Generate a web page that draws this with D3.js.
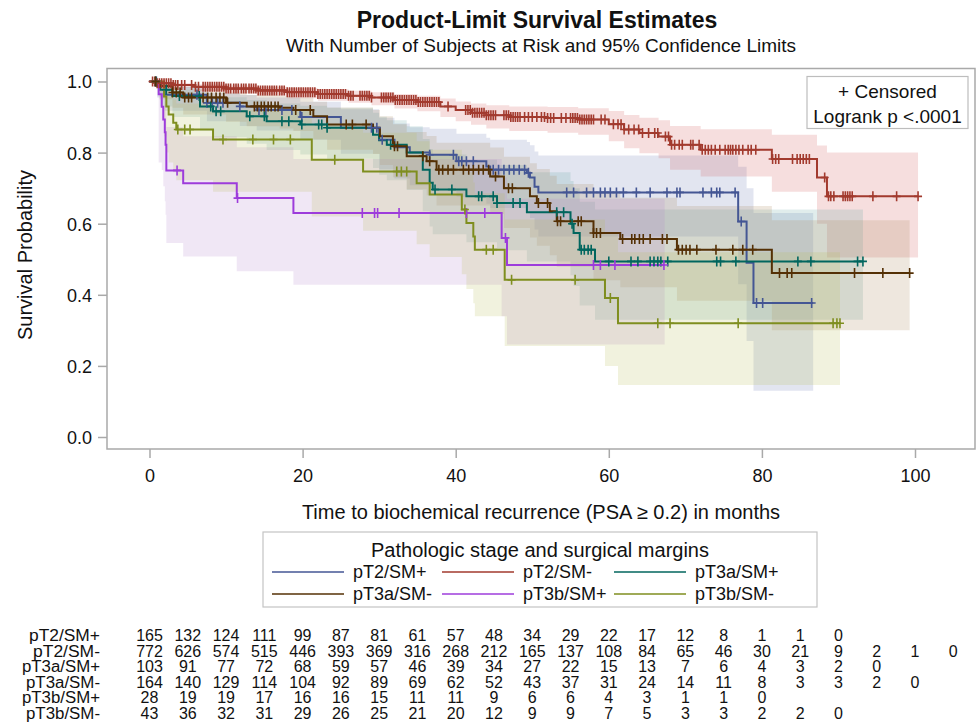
<!DOCTYPE html>
<html><head><meta charset="utf-8">
<script src="https://cdn.jsdelivr.net/npm/d3@7"></script>
<style>body{margin:0;background:#fff} text{font-family:"Liberation Sans",Arial,sans-serif;fill:#111}</style>
</head><body><svg id="c" width="978" height="725"></svg>
<script>
// ---------------- DATA ----------------
const groups = ["pT2/SM+","pT2/SM-","pT3a/SM+","pT3a/SM-","pT3b/SM+","pT3b/SM-"];
// step rows: [time, survival, lowerCL, upperCL]
const stepsPT2SMp = [[0,1,1,1],[1.0,0.987,0.955,0.997],[2.0,0.963,0.918,0.984],[7.5,0.94,0.888,0.968],[11.8,0.93,0.875,0.962],[14.0,0.92,0.862,0.955],[19.7,0.90,0.836,0.943],[25.0,0.87,0.797,0.922],[30.0,0.836,0.753,0.898],[32.0,0.815,0.727,0.882],[34.0,0.80,0.708,0.871],[36.6,0.794,0.70,0.867],[40.1,0.776,0.676,0.853],[44.0,0.761,0.656,0.842],[44.5,0.752,0.644,0.836],[49.3,0.743,0.632,0.830],[49.7,0.73,0.616,0.821],[50.3,0.704,0.584,0.803],[50.8,0.688,0.564,0.792],[76.9,0.606,0.43,0.76],[78.0,0.49,0.27,0.70],[78.9,0.377,0.13,0.63]];
const stepsPT2SMm = [[0,1,1,1],[1,0.995,0.987,0.998],[3,0.99,0.98,0.995],[6,0.985,0.973,0.992],[10,0.98,0.966,0.989],[14,0.975,0.960,0.985],[18,0.97,0.953,0.981],[22,0.965,0.946,0.978],[26,0.96,0.940,0.974],[29,0.955,0.933,0.970],[32,0.948,0.924,0.965],[35,0.942,0.916,0.960],[38,0.93,0.900,0.952],[40,0.92,0.888,0.944],[42,0.912,0.878,0.938],[44,0.905,0.868,0.933],[47,0.90,0.861,0.930],[52,0.897,0.856,0.928],[56,0.893,0.850,0.925],[60,0.88,0.832,0.917],[62,0.865,0.812,0.906],[64,0.855,0.798,0.898],[66.5,0.845,0.784,0.891],[68,0.822,0.752,0.875],[72,0.808,0.733,0.866],[81.3,0.782,0.690,0.850],[87.2,0.73,0.600,0.820],[88.5,0.677,0.505,0.800]];
const stepsPT3aSMp = [[0,1,1,1],[1.4,0.977,0.93,0.994],[3.0,0.959,0.90,0.985],[6.6,0.93,0.862,0.966],[8.3,0.916,0.843,0.956],[12.7,0.902,0.825,0.948],[15.3,0.888,0.807,0.938],[19.7,0.879,0.795,0.932],[23.2,0.87,0.783,0.926],[29.2,0.85,0.757,0.912],[30.0,0.835,0.738,0.901],[31.0,0.822,0.722,0.891],[33.6,0.80,0.695,0.874],[35.7,0.752,0.635,0.838],[36.6,0.715,0.592,0.810],[37.0,0.696,0.57,0.795],[41.4,0.677,0.548,0.780],[45.4,0.658,0.525,0.765],[49.3,0.632,0.494,0.745],[55.0,0.60,0.455,0.720],[55.4,0.574,0.425,0.700],[56.2,0.527,0.370,0.662],[58.2,0.494,0.33,0.640]];
const stepsPT3aSMm = [[0,1,1,1],[1.3,0.987,0.95,0.997],[3.0,0.969,0.926,0.987],[4.4,0.955,0.907,0.978],[10.0,0.94,0.887,0.969],[12.7,0.93,0.874,0.962],[17.0,0.926,0.868,0.959],[18.8,0.92,0.861,0.955],[21.4,0.902,0.837,0.943],[23.2,0.879,0.808,0.927],[29.2,0.87,0.796,0.920],[30.1,0.846,0.765,0.902],[31.8,0.818,0.731,0.880],[33.6,0.79,0.697,0.858],[36.2,0.776,0.680,0.847],[37.5,0.752,0.651,0.828],[44.5,0.733,0.627,0.814],[46.3,0.70,0.588,0.788],[49.7,0.677,0.561,0.770],[50.6,0.658,0.538,0.754],[52.3,0.635,0.511,0.735],[53.2,0.607,0.479,0.712],[58.0,0.574,0.441,0.686],[61.5,0.557,0.421,0.673],[68.9,0.527,0.383,0.650],[81.3,0.461,0.30,0.61]];
const stepsPT3bSMp = [[0,1,1,1],[1.2,0.964,0.772,0.995],[1.6,0.929,0.751,0.982],[1.8,0.893,0.705,0.964],[2.0,0.857,0.663,0.944],[2.1,0.822,0.625,0.922],[2.2,0.75,0.546,0.872],[4.4,0.714,0.508,0.846],[11.4,0.672,0.466,0.815],[18.8,0.63,0.428,0.782],[46.0,0.56,0.34,0.73],[46.7,0.484,0.26,0.67]];
const stepsPT3bSMm = [[0,1,1,1],[1.9,0.958,0.846,0.990],[2.2,0.93,0.80,0.976],[2.5,0.907,0.772,0.964],[3.1,0.884,0.745,0.950],[3.5,0.865,0.722,0.938],[8.3,0.837,0.690,0.920],[21.2,0.78,0.620,0.880],[27.9,0.747,0.580,0.856],[34.9,0.714,0.542,0.832],[36.6,0.682,0.506,0.808],[40.8,0.64,0.458,0.776],[41.4,0.602,0.416,0.745],[42.3,0.564,0.376,0.716],[42.5,0.527,0.340,0.686],[46.4,0.442,0.256,0.612],[59.5,0.391,0.200,0.575],[61.2,0.32,0.146,0.520]];
const lastTimes = [86.7, 100.4, 93.2, 99.3, 67.3, 90.2];

const censPT2SMp = [0.9,6.2,7.5,8.2,8.9,9.6,11.8,14.3,15.2,17.3,18.6,19.9,29.0,29.7,30.4,36.6,39.7,40.4,40.8,41.4,42.3,44.9,45.6,46.3,47.0,47.6,48.3,49.0,49.5,54.5,55.4,57.1,58.0,58.9,59.5,60.2,61.0,61.9,63.6,65.4,67.6,68.9,69.3,72.3,73.4,74.1,74.5,76.5,77.3,79.3,80.1,86.5];
const censPT2SMm = [0.4,0.7,1.0,1.3,1.6,1.9,2.2,2.5,2.8,3.1,3.4,3.7,4.2,4.6,5.5,6.0,6.4,7.0,7.3,7.6,7.9,8.2,8.5,8.8,9.1,9.4,9.7,10.0,10.3,10.6,11.0,11.3,11.6,12.0,12.3,12.6,13.0,13.3,13.6,13.9,14.2,14.5,14.8,15.1,15.4,15.7,16.0,16.3,16.6,17.0,17.3,17.6,18.0,18.3,18.6,18.9,19.2,19.5,19.8,20.1,20.4,20.7,21.0,21.3,21.6,22.0,22.3,22.6,22.9,23.2,23.5,23.8,24.1,24.4,24.7,25.0,25.3,25.6,26.0,26.3,26.6,27.5,27.8,28.1,28.4,28.7,29.0,30.3,30.6,30.9,31.2,31.5,31.8,32.1,32.4,32.7,33.0,33.3,33.6,33.9,34.2,34.5,34.8,35.1,35.4,35.7,36.0,36.3,36.6,36.9,37.2,37.5,37.8,39.0,41.3,41.6,41.9,42.2,42.5,42.8,43.1,43.4,43.7,44.0,44.3,44.6,44.9,45.2,46.3,46.6,46.9,47.2,47.5,47.8,48.1,48.4,49.0,49.5,50.0,50.6,51.2,51.6,52.0,52.4,52.8,53.8,54.4,55.0,55.3,55.6,55.9,56.2,56.5,56.8,57.1,57.4,57.7,58.0,59.0,59.5,60.6,61.2,61.6,62.0,62.6,63.3,63.9,64.4,65.2,66.0,66.4,67.4,67.8,68.2,68.6,69.2,69.6,70.7,71.0,71.8,72.2,72.6,73.0,73.4,73.9,74.5,75.2,75.6,75.9,76.2,76.6,77.0,77.5,78.2,78.6,79.2,81.4,81.8,82.2,84.0,84.6,85.0,85.4,85.8,86.2,88.2,88.7,89.0,89.4,90.6,90.9,91.2,91.5,91.8,94.5,97.6,100.4];
const censPT3aSMp = [0.8,2.2,3.9,6.5,8.0,8.7,9.3,13.1,15.0,17.3,18.2,19.9,22.1,22.5,23.2,31.5,37.3,39.5,43.0,43.4,44.9,45.4,47.5,48.4,53.2,54.1,55.2,56.4,56.8,57.3,57.7,60.0,62.9,63.8,65.4,65.9,66.4,66.8,67.7,74.1,74.6,76.6,84.7,86.4,92.5,93.2];
const censPT3aSMm = [0.8,3.0,3.5,4.0,4.6,5.1,5.5,7.0,7.6,8.1,8.7,9.2,9.7,10.2,13.7,14.1,14.6,15.0,15.5,15.9,16.4,16.8,19.1,21.0,25.7,26.5,28.3,32.0,32.4,35.7,36.6,37.8,38.3,39.0,39.7,41.0,41.7,42.3,43.0,43.6,44.3,45.2,46.9,47.4,50.8,52.0,53.3,53.7,56.0,56.4,58.0,58.4,58.9,61.8,63.0,63.4,64.0,64.5,65.4,67.0,67.6,69.1,69.6,70.1,70.6,71.5,74.0,76.2,77.5,78.8,82.3,83.3,83.9,92.1,95.8,99.3];
const censPT3bSMp = [3.6,11.5,27.8,29.4,29.8,32.6,41.4,43.8,46.5,58.0,58.9,60.8,67.2];
const censPT3bSMm = [3.7,4.6,5.3,9.6,13.5,16.2,18.4,24.2,32.3,32.9,33.6,41.2,44.0,44.9,47.3,55.6,60.2,66.4,68.0,76.9,89.3,89.8,90.2];

const riskTimes = [0,5,10,15,20,25,30,35,40,45,50,55,60,65,70,75,80,85,90,95,100,105];
const atRiskPT2SMp = [165,132,124,111,99,87,81,61,57,48,34,29,22,17,12,8,1,1,0];
const atRiskPT2SMm = [772,626,574,515,446,393,369,316,268,212,165,137,108,84,65,46,30,21,9,2,1,0];
const atRiskPT3aSMp = [103,91,77,72,68,59,57,46,39,34,27,22,15,13,7,6,4,3,2,0];
const atRiskPT3aSMm = [164,140,129,114,104,92,89,69,62,52,43,37,31,24,14,11,8,3,3,2,0];
const atRiskPT3bSMp = [28,19,19,17,16,16,15,11,11,9,6,6,4,3,1,1,0];
const atRiskPT3bSMm = [43,36,32,31,29,26,25,21,20,12,9,9,7,5,3,3,2,2,0];

const xTicks = [0,20,40,60,80,100];
const yTicks = [0.0,0.2,0.4,0.6,0.8,1.0];

// ---------------- STYLE ----------------
const lineColors = ["#445694","#A23A2E","#01665E","#543005","#9D3CDB","#7F8E1F"];
const bandColors = ["#6F7EB3","#D05B5B","#66A5A0","#A9865B","#B689CD","#BABC5C"];

const allSteps = [stepsPT2SMp,stepsPT2SMm,stepsPT3aSMp,stepsPT3aSMm,stepsPT3bSMp,stepsPT3bSMm];
const allCens = [censPT2SMp,censPT2SMm,censPT3aSMp,censPT3aSMm,censPT3bSMp,censPT3bSMm];
const allRisk = [atRiskPT2SMp,atRiskPT2SMm,atRiskPT3aSMp,atRiskPT3aSMm,atRiskPT3bSMp,atRiskPT3bSMm];

const svg = d3.select("#c");
const F = {l:107, t:68.5, r:975, b:449};
const x = d3.scaleLinear().domain([0,100]).range([149.5,915]);
const y = d3.scaleLinear().domain([0,1]).range([437,81.5]);

// Titles
svg.append("text").attr("x",537).attr("y",28).attr("text-anchor","middle")
  .style("font-size","23px").style("font-weight","bold").text("Product-Limit Survival Estimates");
svg.append("text").attr("x",541).attr("y",52).attr("text-anchor","middle")
  .style("font-size","19px").text("With Number of Subjects at Risk and 95% Confidence Limits");

// Plot clip
svg.append("clipPath").attr("id","pc").append("rect")
  .attr("x",F.l).attr("y",F.t).attr("width",F.r-F.l).attr("height",F.b-F.t);
const plot = svg.append("g").attr("clip-path","url(#pc)");

const withEnd = (st, end) => st.concat([[end, st[st.length-1][1], st[st.length-1][2], st[st.length-1][3]]]);

// Bands
const area = d3.area().curve(d3.curveStepAfter)
  .x(d=>x(d[0])).y0(d=>y(d[2])).y1(d=>y(d[3]));
allSteps.forEach((st,i)=>{
  plot.append("path").attr("d",area(withEnd(st,lastTimes[i])))
    .attr("fill",bandColors[i]).attr("fill-opacity",0.2).attr("stroke","none");
});

// Lines
const line = d3.line().curve(d3.curveStepAfter).x(d=>x(d[0])).y(d=>y(d[1]));
allSteps.forEach((st,i)=>{
  plot.append("path").attr("d",line(withEnd(st,lastTimes[i])))
    .attr("fill","none").attr("stroke",lineColors[i]).attr("stroke-width",2);
});

// Censor marks
const survAt = (st,t)=>{let s=st[0][1]; for(const r of st){ if(r[0]<=t) s=r[1]; } return s;};
allCens.forEach((cs,i)=>{
  plot.append("g").selectAll("path").data(cs).join("path")
    .attr("d",t=>{const px=x(t), py=y(survAt(allSteps[i],t)); return `M${px},${py-5}V${py+5}M${px-4},${py}H${px+4}`;})
    .attr("stroke",lineColors[i]).attr("stroke-width",1.6).attr("fill","none");
});

// Frame
svg.append("rect").attr("x",F.l).attr("y",F.t).attr("width",F.r-F.l).attr("height",F.b-F.t)
  .attr("fill","none").attr("stroke","#a9a9a9").attr("stroke-width",1.5);

// Axes
const gx = svg.append("g").attr("transform",`translate(0,${F.b})`)
  .call(d3.axisBottom(x).tickValues(xTicks).tickSize(9).tickPadding(11).tickFormat(d3.format("d")));
const gy = svg.append("g").attr("transform",`translate(${F.l},0)`)
  .call(d3.axisLeft(y).tickValues(yTicks).tickSize(9).tickPadding(6).tickFormat(d3.format(".1f")));
[gx,gy].forEach(g=>{
  g.select(".domain").remove();
  g.selectAll(".tick line").attr("stroke","#a9a9a9").attr("stroke-width",1.5);
  g.selectAll(".tick text").style("font-size","18px").style("font-family","'Liberation Sans',Arial,sans-serif").attr("fill","#111");
});
gy.selectAll(".tick text").attr("dy","0.36em");

svg.append("text").attr("x",541).attr("y",519).attr("text-anchor","middle")
  .style("font-size","20px").text("Time to biochemical recurrence (PSA \u2265 0.2) in months");
svg.append("text").attr("transform","translate(32,255) rotate(-90)").attr("text-anchor","middle")
  .style("font-size","20px").text("Survival Probability");

// Inset box
svg.append("rect").attr("x",807).attr("y",76.5).attr("width",161).attr("height",52)
  .attr("fill","#fff").attr("stroke","#bdbdbd").attr("stroke-width",1.2);
svg.append("text").attr("x",887.5).attr("y",98).attr("text-anchor","middle").style("font-size","19px").text("+ Censored");
svg.append("text").attr("x",887.5).attr("y",123).attr("text-anchor","middle").style("font-size","19px").text("Logrank p <.0001");

// Legend
const LG = {x:263, y:532, w:554, h:75};
svg.append("rect").attr("x",LG.x).attr("y",LG.y).attr("width",LG.w).attr("height",LG.h)
  .attr("fill","#fff").attr("stroke","#c4c4c4").attr("stroke-width",1.2);
svg.append("text").attr("x",LG.x+LG.w/2).attr("y",557).attr("text-anchor","middle").style("font-size","20px")
  .text("Pathologic stage and surgical margins");
const colX = [272, 442, 614];
const rowY = [578, 600];
groups.forEach((g,i)=>{
  const cx = colX[i%3], ry = rowY[Math.floor(i/3)];
  svg.append("line").attr("x1",cx).attr("x2",cx+72).attr("y1",ry-6).attr("y2",ry-6)
    .attr("stroke",lineColors[i]).attr("stroke-width",2).attr("stroke-opacity",0.75);
  svg.append("text").attr("x",cx+81).attr("y",ry).style("font-size","18px").text(g);
});

// At-risk table
const rowBase = [641, 656.6, 672.2, 687.8, 703.4, 719];
groups.forEach((g,i)=>{
  svg.append("text").attr("x",100).attr("y",rowBase[i]).attr("text-anchor","end")
    .style("font-size","16px").attr("textLength", g.endsWith("+") ? (g.length>7?78:71) : (g.length>7?74:67))
    .attr("lengthAdjust","spacingAndGlyphs").text(g);
  svg.append("g").selectAll("text").data(allRisk[i]).join("text")
    .attr("x",(d,j)=>x(riskTimes[j])).attr("y",rowBase[i]).attr("text-anchor","middle")
    .style("font-size","16px").text(d=>d);
});
</script></body></html>
